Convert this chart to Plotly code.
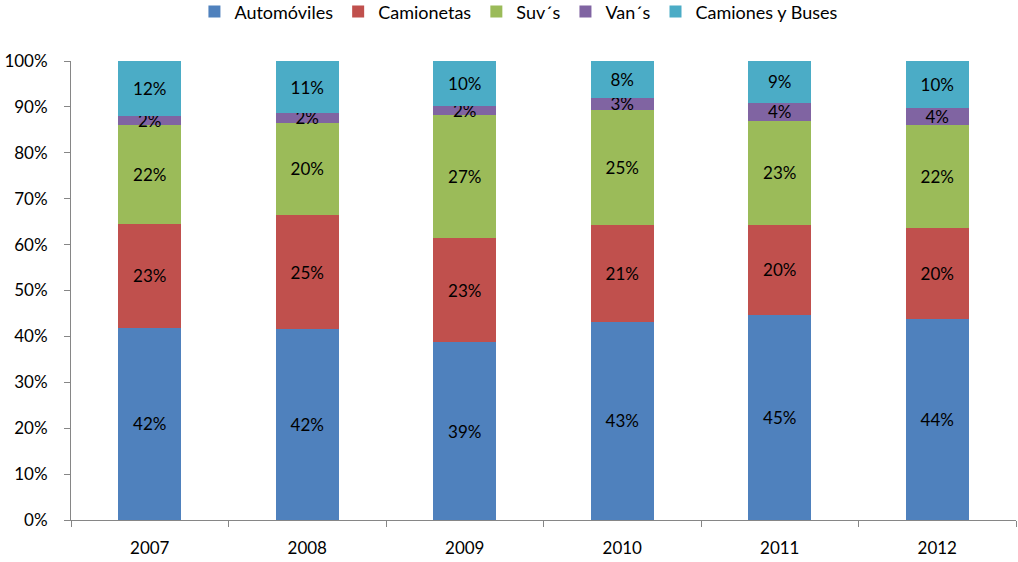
import plotly.graph_objects as go

# --- data (percent share per year) ---
years = ["2007", "2008", "2009", "2010", "2011", "2012"]
automoviles = [41.9, 41.6, 38.7, 43.2, 44.7, 43.9]
camionetas = [22.6, 24.8, 22.8, 21.1, 19.6, 19.8]
suvs = [21.5, 20.2, 26.7, 25.0, 22.7, 22.4]
vans = [2.1, 2.0, 2.1, 2.7, 3.9, 3.6]
camiones_buses = [11.9, 11.4, 9.7, 8.0, 9.1, 10.3]

series = [
    ("Automóviles", automoviles, "#4F81BD"),
    ("Camionetas", camionetas, "#C0504D"),
    ("Suv´s", suvs, "#9BBB59"),
    ("Van´s", vans, "#8064A2"),
    ("Camiones y Buses", camiones_buses, "#4BACC6"),
]

FONT = "Lato, 'Open Sans', sans-serif"

fig = go.Figure()
for name, vals, color in series:
    fig.add_trace(go.Bar(
        x=years, y=vals, name=name,
        marker=dict(color=color, line=dict(width=0)),
        texttemplate="%{y:.0f}%", textposition="inside",
        insidetextanchor="middle", textangle=0, constraintext="none",
        textfont=dict(color="black", size=17, family=FONT),
        hovertemplate="%{x}: %{y:.1f}%<extra>" + name + "</extra>",
    ))

fig.update_layout(
    barmode="stack", bargap=0.6,
    width=1018, height=562,
    margin=dict(l=71, r=2, t=61, b=42, autoexpand=False),
    plot_bgcolor="white", paper_bgcolor="white",
    font=dict(family=FONT, size=17, color="black"),
    legend=dict(orientation="h", x=0.474, xanchor="center", y=1.107,
                yanchor="middle", font=dict(size=18), itemwidth=30,
                traceorder="normal"),
    xaxis=dict(showline=True, linecolor="#868686", linewidth=1,
               ticks="outside", tickson="boundaries", ticklen=6, tickcolor="#868686",
               ticklabelstandoff=13, showgrid=False, automargin=False),
    yaxis=dict(range=[0, 100], dtick=10, ticksuffix="%", showline=True,
               linecolor="#868686", linewidth=1, ticks="outside", ticklen=6,
               tickcolor="#868686", showgrid=False, zeroline=False,
               ticklabelstandoff=13, automargin=False),
)

# drop the default 8px body margin so the figure sits at the page corner
fig.write_html("out.html", config={"displayModeBar": False},
               post_script="document.body.style.margin='0';")
